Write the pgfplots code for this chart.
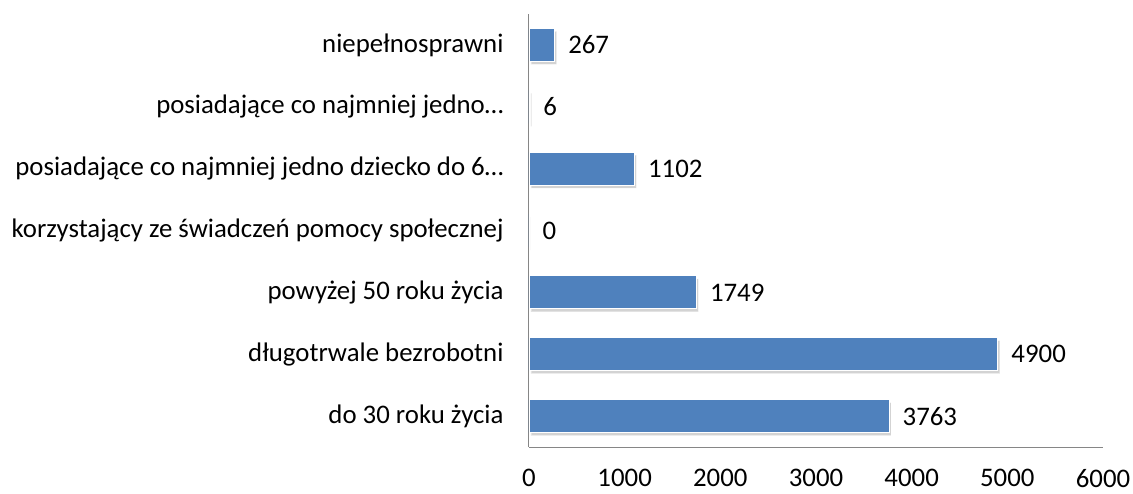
\documentclass[border=0pt]{standalone}
\usepackage{pgfplots}
\pgfplotsset{compat=1.18}
\usepackage{fontspec}
\setmainfont{Carlito}
\usetikzlibrary{shadows}
\definecolor{barblue}{HTML}{4F81BD}
\definecolor{axgray}{HTML}{868686}
\begin{document}
\begin{tikzpicture}[x=1pt,y=1pt]
\path[use as bounding box] (-529pt,-46pt) rectangle (604pt,447pt);
\begin{axis}[
  at={(0,0)}, anchor=south west,
  scale only axis, width=574pt, height=433pt,
  xmin=0, xmax=6000, ymin=-0.5, ymax=6.5,
  xtick={0,1000,...,6000},
  ytick={0,...,6},
  yticklabels={do 30 roku życia, długotrwale bezrobotni, powyżej 50 roku życia, korzystający ze świadczeń pomocy społecznej, posiadające co najmniej jedno dziecko do 6…, posiadające co najmniej jedno…, niepełnosprawni},
  axis x line*=bottom, axis y line*=left,
  axis line style={axgray, line width=1pt, -},
  major tick length=0pt,
  xticklabel style={font=\fontsize{26.8}{32}\selectfont, yshift=-19pt},
  yticklabel style={font=\fontsize{26.8}{32}\selectfont, xshift=-22pt},
  /pgf/number format/assume math mode=true,
  /pgf/number format/1000 sep={},
  xbar, bar width=33pt,
  nodes near coords,
  nodes near coords style={font=\fontsize{26.8}{32}\selectfont, xshift=10pt, black},
  clip=false,
]
\addplot[fill=barblue, draw=white, line width=0.8pt, drop shadow={opacity=0.35, shadow xshift=2pt, shadow yshift=-3pt}] coordinates {
(3763,0) (4900,1) (1749,2) (0,3) (1102,4) (6,5) (267,6)
};
\end{axis}
\end{tikzpicture}
\end{document}
